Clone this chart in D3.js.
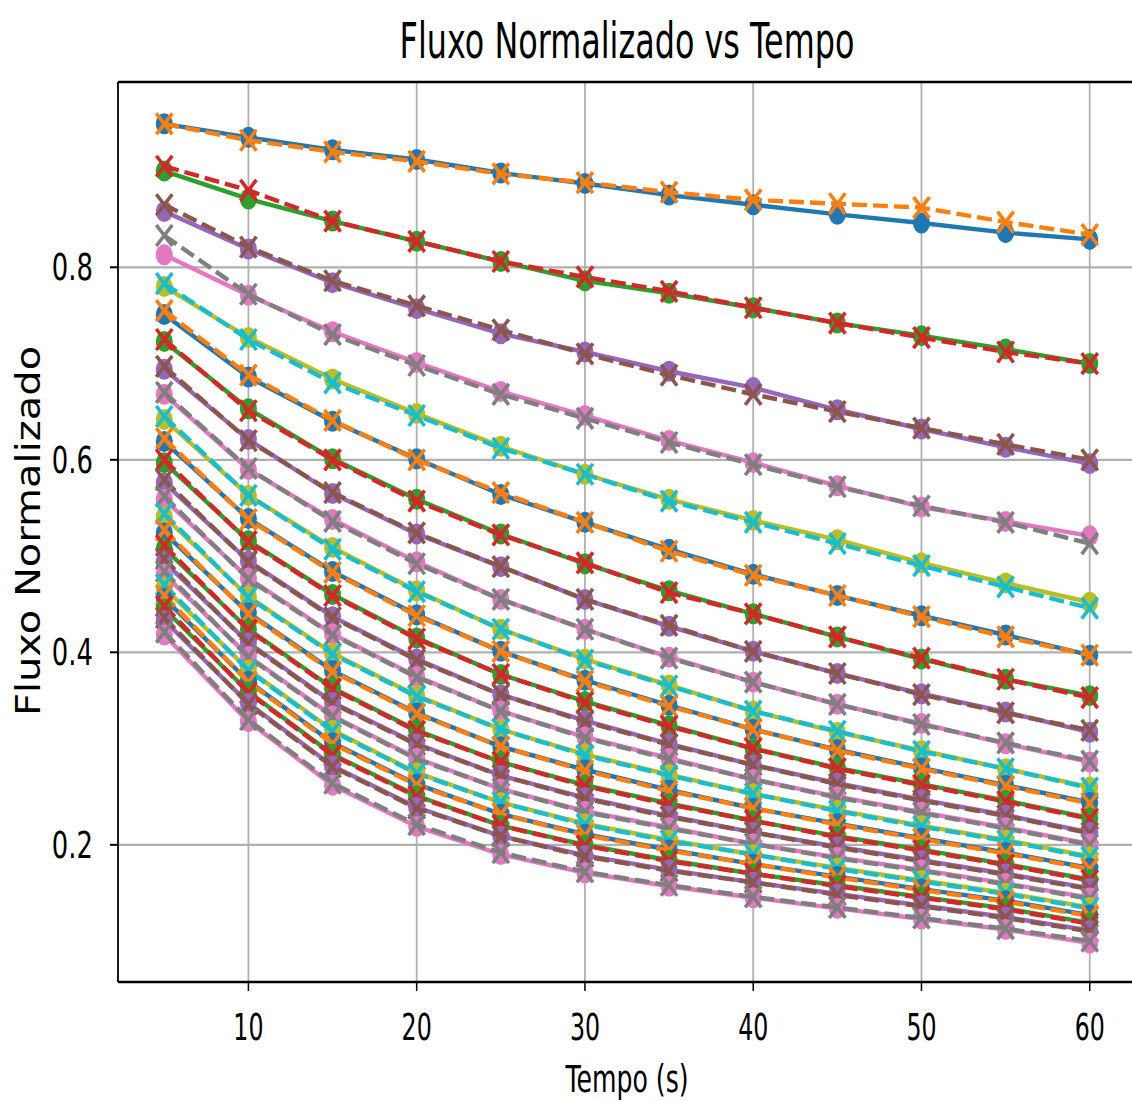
<!DOCTYPE html>
<html>
<head>
<meta charset="utf-8">
<script src="https://cdn.jsdelivr.net/npm/d3@7"></script>
<style>
  html, body { margin: 0; padding: 0; background: #fff; }
  svg { display: block; }
  text { font-family: "DejaVu Sans", sans-serif; fill: #000; }
</style>
</head>
<body>
<svg id="chart" width="1132" height="1101"></svg>
<script>
// ---- Data ----
const tempo = [5, 10, 15, 20, 25, 30, 35, 40, 45, 50, 55, 60];
const xTicks = [10, 20, 30, 40, 50, 60];
const yTicks = [0.2, 0.4, 0.6, 0.8];
const titleText = "Fluxo Normalizado vs Tempo";
const xLabelText = "Tempo (s)";
const yLabelText = "Fluxo Normalizado";
const palette = ["#1f77b4", "#ff7f0e", "#2ca02c", "#d62728", "#9467bd",
                 "#8c564b", "#e377c2", "#7f7f7f", "#bcbd22", "#17becf"];

// solid lines with circle markers
const s01 = [0.949,0.935,0.922,0.912,0.898,0.887,0.875,0.865,0.855,0.846,0.836,0.829];
const s02 = [0.900,0.871,0.848,0.827,0.806,0.786,0.773,0.758,0.742,0.729,0.715,0.700];
const s03 = [0.858,0.819,0.784,0.757,0.731,0.712,0.692,0.675,0.652,0.632,0.613,0.596];
const s04 = [0.813,0.771,0.733,0.701,0.671,0.646,0.620,0.597,0.573,0.551,0.536,0.521];
const s05 = [0.780,0.727,0.684,0.648,0.614,0.585,0.559,0.537,0.517,0.493,0.472,0.452];
const s06 = [0.751,0.686,0.640,0.601,0.564,0.535,0.507,0.481,0.459,0.438,0.418,0.397];
const s07 = [0.723,0.653,0.601,0.559,0.523,0.492,0.464,0.440,0.416,0.393,0.372,0.355];
const s08 = [0.694,0.621,0.565,0.523,0.489,0.455,0.427,0.401,0.378,0.357,0.338,0.317];
const s09 = [0.668,0.590,0.538,0.494,0.455,0.424,0.395,0.369,0.346,0.326,0.305,0.286];
const s10 = [0.642,0.563,0.509,0.464,0.424,0.393,0.366,0.339,0.317,0.298,0.279,0.260];
const s11 = [0.619,0.539,0.484,0.439,0.401,0.371,0.345,0.320,0.299,0.280,0.262,0.244];
const s12 = [0.597,0.516,0.460,0.415,0.377,0.349,0.324,0.300,0.280,0.263,0.246,0.228];
const s13 = [0.576,0.495,0.437,0.393,0.356,0.329,0.305,0.283,0.264,0.247,0.231,0.213];
const s14 = [0.559,0.477,0.419,0.375,0.339,0.312,0.290,0.268,0.250,0.234,0.218,0.201];
const s15 = [0.541,0.458,0.399,0.355,0.320,0.294,0.273,0.253,0.236,0.220,0.205,0.188];
const s16 = [0.524,0.441,0.381,0.337,0.302,0.278,0.257,0.238,0.222,0.207,0.192,0.176];
const s17 = [0.508,0.424,0.363,0.319,0.286,0.262,0.243,0.225,0.209,0.195,0.180,0.164];
const s18 = [0.494,0.410,0.348,0.305,0.272,0.249,0.230,0.213,0.198,0.184,0.170,0.155];
const s19 = [0.481,0.396,0.334,0.290,0.258,0.235,0.218,0.201,0.187,0.174,0.160,0.145];
const s20 = [0.467,0.382,0.319,0.275,0.244,0.222,0.205,0.190,0.176,0.163,0.150,0.135];
const s21 = [0.456,0.370,0.306,0.263,0.232,0.211,0.195,0.180,0.167,0.154,0.142,0.127];
const s22 = [0.445,0.359,0.294,0.251,0.220,0.200,0.184,0.170,0.158,0.146,0.134,0.119];
const s23 = [0.433,0.347,0.282,0.239,0.209,0.189,0.174,0.161,0.149,0.137,0.125,0.111];
const s24 = [0.418,0.328,0.262,0.219,0.190,0.171,0.157,0.145,0.134,0.123,0.112,0.098];

// dashed lines with x markers
const d01 = [0.949,0.932,0.920,0.910,0.897,0.888,0.878,0.870,0.866,0.862,0.847,0.834];
const d02 = [0.905,0.880,0.848,0.827,0.806,0.790,0.775,0.758,0.742,0.727,0.712,0.700];
const d03 = [0.865,0.821,0.786,0.760,0.735,0.710,0.688,0.668,0.650,0.633,0.616,0.600];
const d04 = [0.833,0.772,0.730,0.698,0.668,0.643,0.618,0.595,0.572,0.552,0.535,0.513];
const d05 = [0.783,0.725,0.680,0.646,0.612,0.585,0.557,0.535,0.513,0.490,0.468,0.446];
const d06 = [0.755,0.688,0.641,0.600,0.566,0.535,0.505,0.480,0.459,0.437,0.416,0.397];
const d07 = [0.725,0.651,0.600,0.557,0.522,0.493,0.462,0.440,0.416,0.394,0.372,0.353];
const d08 = [0.697,0.620,0.566,0.524,0.489,0.455,0.428,0.401,0.378,0.356,0.337,0.319];
const d09 = [0.670,0.591,0.536,0.492,0.455,0.424,0.394,0.369,0.346,0.325,0.306,0.287];
const d10 = [0.645,0.563,0.507,0.463,0.424,0.392,0.365,0.339,0.318,0.297,0.279,0.259];
const d11 = [0.622,0.538,0.483,0.438,0.401,0.370,0.344,0.320,0.298,0.279,0.261,0.243];
const d12 = [0.600,0.515,0.459,0.414,0.377,0.348,0.323,0.300,0.279,0.262,0.245,0.227];
const d13 = [0.579,0.494,0.436,0.392,0.356,0.328,0.304,0.283,0.263,0.246,0.230,0.212];
const d14 = [0.562,0.476,0.418,0.374,0.339,0.311,0.289,0.268,0.249,0.233,0.217,0.200];
const d15 = [0.544,0.457,0.398,0.354,0.320,0.293,0.272,0.253,0.235,0.219,0.204,0.187];
const d16 = [0.527,0.440,0.380,0.336,0.302,0.277,0.256,0.238,0.221,0.206,0.191,0.175];
const d17 = [0.511,0.423,0.362,0.318,0.286,0.261,0.242,0.225,0.208,0.194,0.179,0.163];
const d18 = [0.497,0.409,0.347,0.304,0.272,0.248,0.229,0.213,0.197,0.183,0.169,0.154];
const d19 = [0.484,0.395,0.333,0.289,0.258,0.234,0.217,0.201,0.186,0.173,0.159,0.144];
const d20 = [0.470,0.381,0.318,0.274,0.244,0.221,0.204,0.190,0.175,0.162,0.149,0.134];
const d21 = [0.459,0.369,0.305,0.262,0.232,0.210,0.194,0.180,0.166,0.153,0.141,0.126];
const d22 = [0.448,0.358,0.293,0.250,0.220,0.199,0.183,0.170,0.157,0.145,0.133,0.118];
const d23 = [0.436,0.346,0.281,0.238,0.209,0.188,0.173,0.161,0.148,0.136,0.124,0.110];
const d24 = [0.421,0.330,0.264,0.221,0.192,0.172,0.158,0.146,0.135,0.124,0.113,0.100];

const solidSeries = [s01,s02,s03,s04,s05,s06,s07,s08,s09,s10,s11,s12,
                     s13,s14,s15,s16,s17,s18,s19,s20,s21,s22,s23,s24];
const dashedSeries = [d01,d02,d03,d04,d05,d06,d07,d08,d09,d10,d11,d12,
                      d13,d14,d15,d16,d17,d18,d19,d20,d21,d22,d23,d24];

// ---- Layout ----
const plot = { left: 118, right: 1136, top: 82, bottom: 982 };
const SX = 0.64; // horizontal squeeze of glyphs in the reference

const svg = d3.select("#chart");
const x = d3.scaleLinear().domain([2.25, 62.75]).range([plot.left, plot.right]);
const y = d3.scaleLinear().domain([0.0575, 0.9925]).range([plot.bottom, plot.top]);

// grid
const grid = svg.append("g");
grid.selectAll("line.gx").data(xTicks).join("line")
  .attr("x1", d => x(d)).attr("x2", d => x(d))
  .attr("y1", plot.top).attr("y2", plot.bottom)
  .attr("stroke", "#b0b0b0").attr("stroke-width", 1.8);
grid.selectAll("line.gy").data(yTicks).join("line")
  .attr("x1", plot.left).attr("x2", plot.right)
  .attr("y1", d => y(d)).attr("y2", d => y(d))
  .attr("stroke", "#b0b0b0").attr("stroke-width", 2.2);

// series
const lineGen = d3.line().x((d, i) => x(tempo[i])).y(d => y(d));
const seriesG = svg.append("g");
const allSeries = [];
solidSeries.forEach((s, k) => {
  allSeries.push({ values: s, dashed: false, color: palette[(2 * k) % 10] });
  allSeries.push({ values: dashedSeries[k], dashed: true, color: palette[(2 * k + 1) % 10] });
});
allSeries.forEach(ser => {
  const g = seriesG.append("g");
  g.append("path").datum(ser.values)
    .attr("d", lineGen).attr("fill", "none")
    .attr("stroke", ser.color).attr("stroke-width", 4.4)
    .attr("stroke-dasharray", ser.dashed ? "15,6" : null)
    .attr("stroke-linejoin", "round");
  if (!ser.dashed) {
    g.selectAll("ellipse").data(ser.values).join("ellipse")
      .attr("cx", (d, i) => x(tempo[i])).attr("cy", d => y(d))
      .attr("rx", 8.5).attr("ry", 10.5).attr("fill", ser.color);
  } else {
    const mk = g.selectAll("g.mk").data(ser.values).join("g")
      .attr("transform", (d, i) => `translate(${x(tempo[i])},${y(d)})`);
    mk.append("line").attr("x1", -8).attr("y1", -10.5).attr("x2", 8).attr("y2", 10.5)
      .attr("stroke", ser.color).attr("stroke-width", 3.6);
    mk.append("line").attr("x1", -8).attr("y1", 10.5).attr("x2", 8).attr("y2", -10.5)
      .attr("stroke", ser.color).attr("stroke-width", 3.6);
  }
});

// spines
svg.append("line").attr("x1", plot.left).attr("x2", plot.right)
  .attr("y1", plot.top).attr("y2", plot.top).attr("stroke", "#000").attr("stroke-width", 2.5);
svg.append("line").attr("x1", plot.left).attr("x2", plot.right)
  .attr("y1", plot.bottom).attr("y2", plot.bottom).attr("stroke", "#000").attr("stroke-width", 2.5);
svg.append("line").attr("x1", plot.left).attr("x2", plot.left)
  .attr("y1", plot.top).attr("y2", plot.bottom).attr("stroke", "#000").attr("stroke-width", 1.8);

// ticks
svg.selectAll("line.xt").data(xTicks).join("line")
  .attr("x1", d => x(d)).attr("x2", d => x(d))
  .attr("y1", plot.bottom).attr("y2", plot.bottom + 9)
  .attr("stroke", "#000").attr("stroke-width", 1.5);
svg.selectAll("line.yt").data(yTicks).join("line")
  .attr("x1", plot.left - 8).attr("x2", plot.left)
  .attr("y1", d => y(d)).attr("y2", d => y(d))
  .attr("stroke", "#000").attr("stroke-width", 2);

// tick labels
svg.selectAll("text.xl").data(xTicks).join("text")
  .attr("transform", d => `translate(${x(d)},1027) scale(${SX},1)`)
  .attr("text-anchor", "middle").attr("dominant-baseline", "central")
  .attr("font-size", 37).text(d => d3.format("d")(d));
svg.selectAll("text.yl").data(yTicks).join("text")
  .attr("transform", d => `translate(93,${y(d)}) scale(0.7,1)`)
  .attr("text-anchor", "end").attr("dominant-baseline", "central")
  .attr("font-size", 37).text(d => d3.format(".1f")(d));

// title & labels
svg.append("text")
  .attr("transform", `translate(627,58) scale(0.65,1)`)
  .attr("text-anchor", "middle").attr("font-size", 49).text(titleText);
svg.append("text")
  .attr("transform", `translate(627,1092) scale(0.68,1)`)
  .attr("text-anchor", "middle").attr("font-size", 37).text(xLabelText);
svg.append("text")
  .attr("transform", `translate(40,531) scale(0.85,1) rotate(-90)`)
  .attr("text-anchor", "middle").attr("font-size", 40).text(yLabelText);
</script>
</body>
</html>
